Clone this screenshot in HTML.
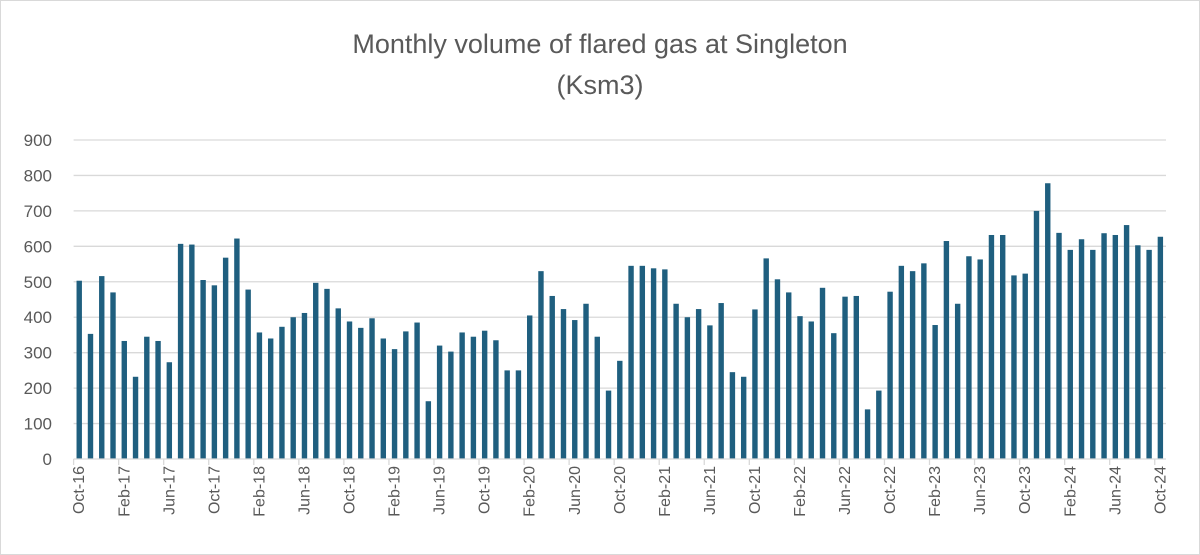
<!DOCTYPE html>
<html><head><meta charset="utf-8"><style>
body{margin:0;background:#fff;}
svg{display:block;font-family:"Liberation Sans",sans-serif;}
</style></head><body>
<svg id="chart" width="1200" height="555">
<rect x="0.5" y="0.5" width="1199" height="554" fill="#fff" stroke="#d9d9d9"/>
<text x="600" y="53" text-anchor="middle" font-size="27" fill="#595959">Monthly volume of flared gas at Singleton</text>
<text x="600" y="94" text-anchor="middle" font-size="27" fill="#595959">(Ksm3)</text>
<g id="grid"></g><g id="bars"></g><g id="axes"></g>
</svg>
<script>
const values=[503,353,516,470,333,232,345,333,273,607,605,505,490,568,622,478,357,340,373,400,412,497,480,425,388,370,397,340,310,360,385,163,320,303,357,345,362,335,250,250,405,530,460,423,392,438,345,193,277,545,545,538,535,438,400,423,377,440,245,232,422,566,507,470,403,388,483,355,458,460,140,193,472,545,530,552,378,615,438,572,563,632,632,518,523,700,778,638,590,620,590,637,632,660,603,590,627];
const monthNames=["Jan","Feb","Mar","Apr","May","Jun","Jul","Aug","Sep","Oct","Nov","Dec"];
const yTicks=[0,100,200,300,400,500,600,700,800,900];
const startMonth=9, startYear=16;
const NS="http://www.w3.org/2000/svg";
const x0=73.6, x1=1166, y0=459, yTop=140, yMax=900;
const n=values.length, step=(x1-x0)/n;
function y(v){return y0-(v/yMax)*(y0-yTop);}
function xc(i){return x0+step*(i+0.5);}
function mk(tag,attrs,parent){const e=document.createElementNS(NS,tag);for(const k in attrs)e.setAttribute(k,attrs[k]);parent.appendChild(e);return e;}
const grid=document.getElementById('grid'),bars=document.getElementById('bars'),axes=document.getElementById('axes');
yTicks.forEach(t=>{
  if(t>0){const l=mk('line',{x1:x0,x2:x1,y1:y(t),y2:y(t),stroke:'#d9d9d9','stroke-width':1.3},grid);
  
  }
  const tx=mk('text',{x:52,y:y(t)+6,'text-anchor':'end','font-size':17,fill:'#595959'},axes);
  tx.textContent=t;
  
  
});
values.forEach((v,i)=>{
  const r=mk('rect',{x:xc(i)-2.7,y:y(v),width:5.4,height:y0-y(v),fill:'#1f5f7f'},bars);
  
  
});
const ax=mk('line',{x1:x0,x2:x1,y1:y0,y2:y0,stroke:'#d9d9d9','stroke-width':1.3},axes);


for(let i=0;i<=n;i+=4){
  const tx0=x0+step*i;
  const tk=mk('line',{x1:tx0,x2:tx0,y1:y0,y2:y0+6,stroke:'#d9d9d9','stroke-width':1.3},axes);
  
  
  if(i<n){
    const m=(startMonth+i)%12, yr=startYear+Math.floor((startMonth+i)/12);
    const lx=xc(i)+5, ly=466;
    const t=mk('text',{x:lx,y:ly,'text-anchor':'end','font-size':16,fill:'#595959',transform:`rotate(-90 ${lx} ${ly})`},axes);
    t.textContent=monthNames[m]+'-'+yr;
    
    
  }
}
</script>
</body></html>
